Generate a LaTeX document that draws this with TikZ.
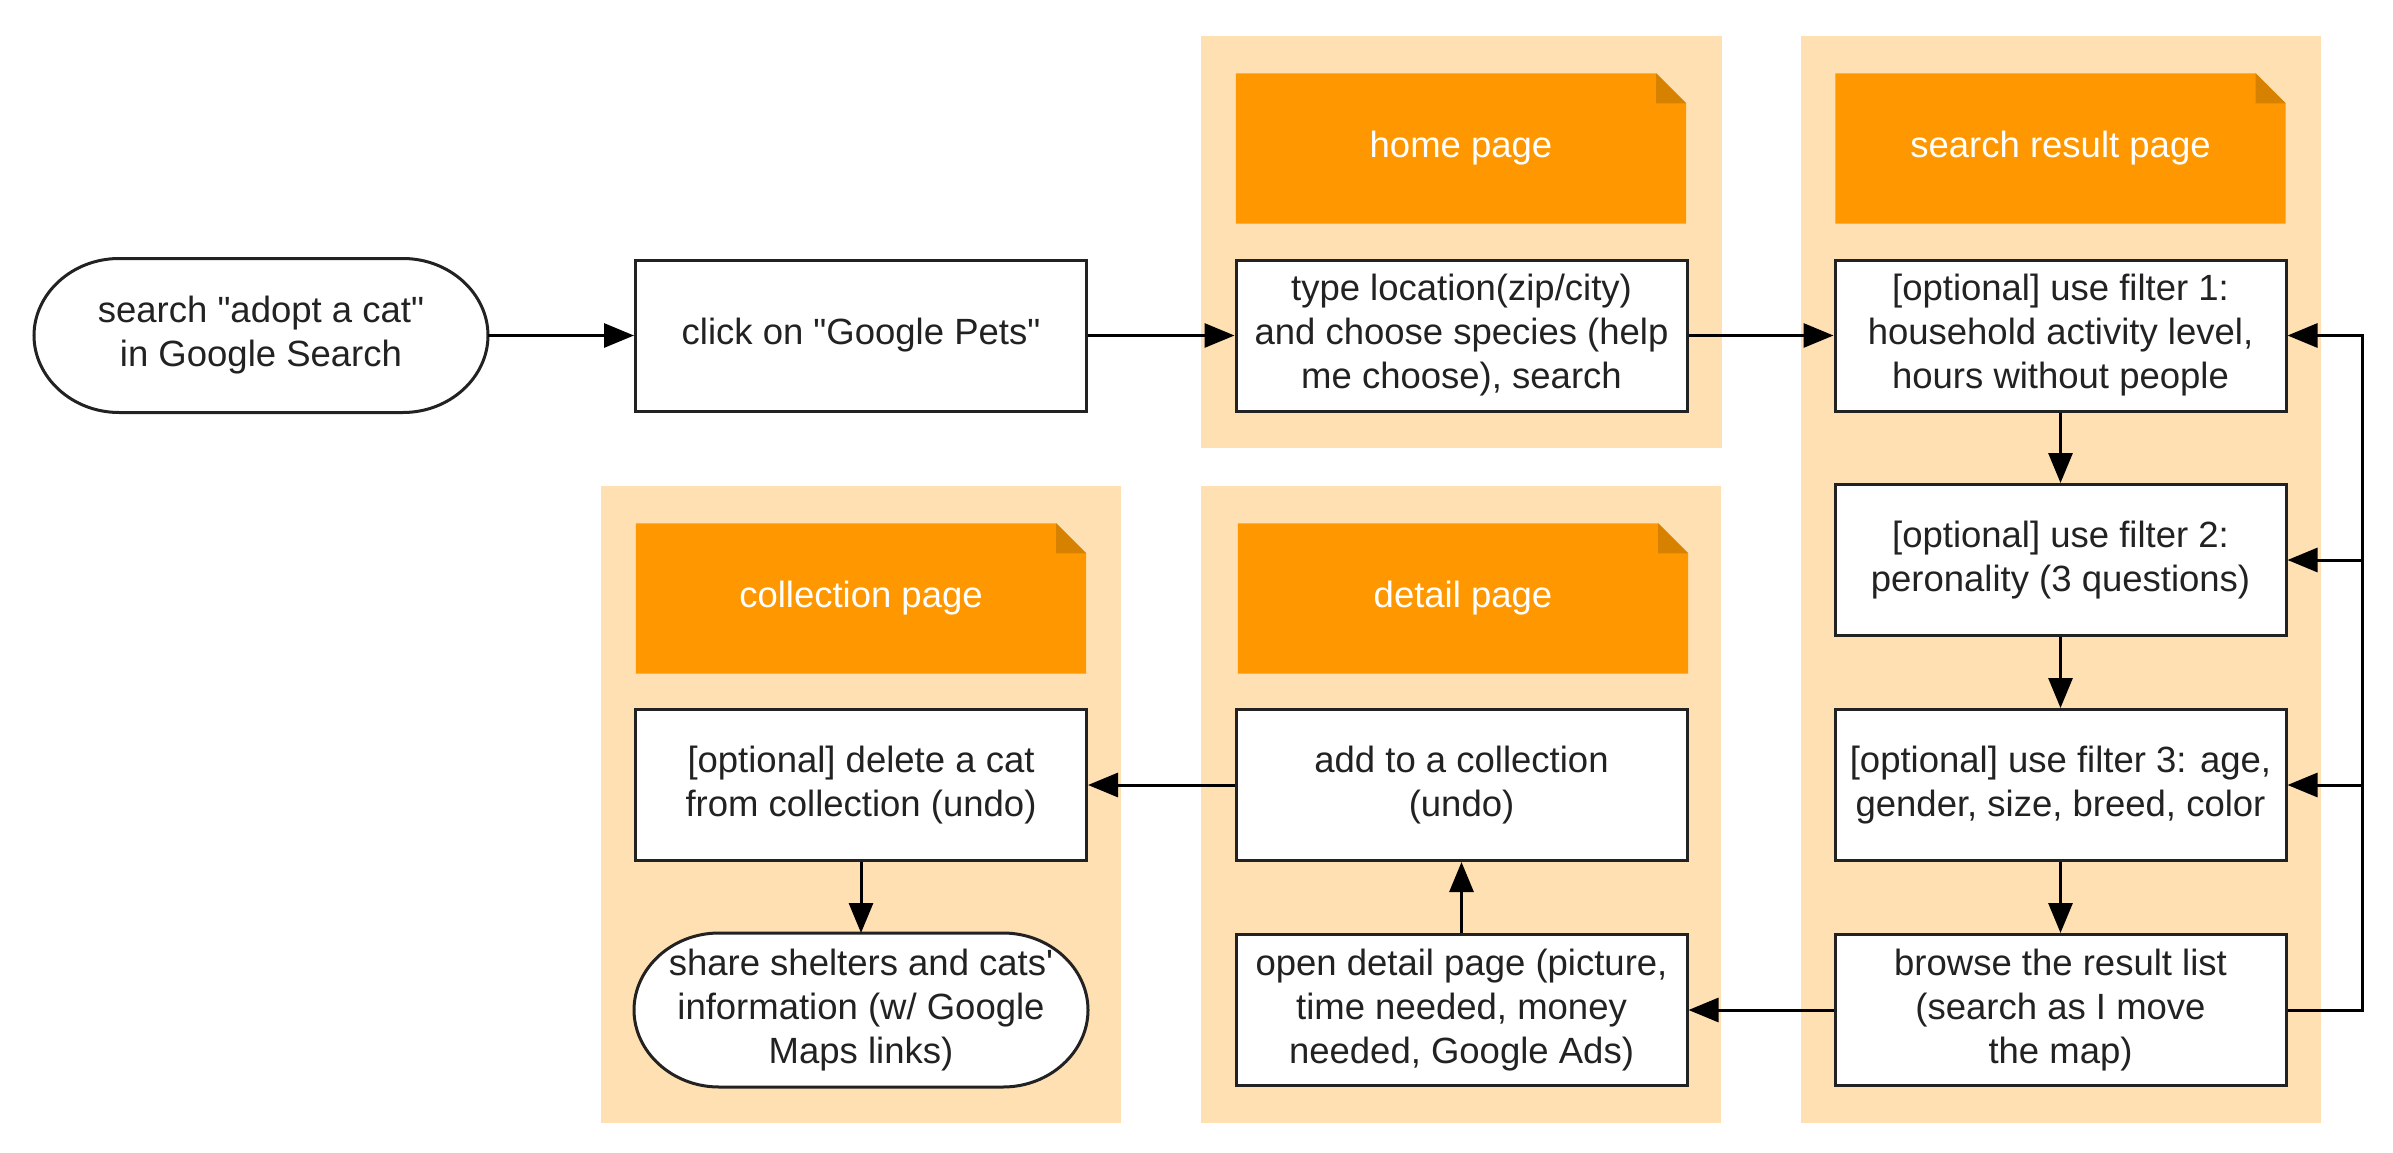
\documentclass[tikz,border=0pt]{standalone}
\usepackage{fontspec}
\setmainfont{Liberation Sans}[Ligatures=TeXOff]
\usetikzlibrary{arrows.meta}
\definecolor{bgor}{HTML}{FFE0B2}
\definecolor{noteor}{HTML}{FF9800}
\definecolor{foldor}{HTML}{D68100}
\definecolor{ink}{HTML}{222222}
\pgfdeclarelayer{back}\pgfdeclarelayer{mid}\pgfsetlayers{back,mid,main}
\newcommand\notefold[1]{%
 \begin{pgfonlayer}{mid}
 \fill[noteor] (#1.north west) -- ([xshift=-30pt]#1.north east) -- ([yshift=-30pt]#1.north east) -- (#1.south east) -- (#1.south west) -- cycle;
 \fill[foldor] ([xshift=-30pt]#1.north east) -- ([xshift=-30pt,yshift=-30pt]#1.north east) -- ([yshift=-30pt]#1.north east) -- cycle;
 \end{pgfonlayer}}
\newcommand\termoutline[1]{%
 \begin{pgfonlayer}{mid}
 \draw[line width=3pt, draw=ink, fill=white] ([xshift=85pt]#1.north west) -- ([xshift=-85pt]#1.north east)
   .. controls ([xshift=-38pt]#1.north east) and ([yshift=41.7pt]#1.east) .. (#1.east)
   .. controls ([yshift=-41.7pt]#1.east) and ([xshift=-38pt]#1.south east) .. ([xshift=-85pt]#1.south east)
   -- ([xshift=85pt]#1.south west)
   .. controls ([xshift=38pt]#1.south west) and ([yshift=-41.7pt]#1.west) .. (#1.west)
   .. controls ([yshift=41.7pt]#1.west) and ([xshift=38pt]#1.north west) .. ([xshift=85pt]#1.north west) -- cycle;
 \end{pgfonlayer}}
\begin{document}
\begin{tikzpicture}[x=1pt,y=-1pt,
  box/.style={draw=ink, line width=3pt, fill=white, minimum width=451pt, minimum height=151pt, inner sep=0pt, align=center, font=\fontsize{36.5}{44}\selectfont, text=ink},
  term/.style={box, draw=none, fill=none},
  notetext/.style={minimum width=450pt, minimum height=150pt, inner sep=0pt, text=white, font=\fontsize{36.5}{44}\selectfont},
  conn/.style={line width=3pt, draw=black, -{Triangle[length=30pt,width=24pt]}}]
\useasboundingbox (0,0) rectangle (2393,1153);
\begin{pgfonlayer}{back}
\fill[bgor] (1201,36) rectangle (1722,448);
\fill[bgor] (1801,36) rectangle (2321,1123);
\fill[bgor] (601,486) rectangle (1121,1123);
\fill[bgor] (1201,486) rectangle (1721,1123);
\end{pgfonlayer}
% notes
\node[notetext] (hn) at (1461,148.5) {home page};
\node[notetext] (sn) at (2060.5,148.5) {search result page};
\node[notetext] (cn) at (861,598.5) {collection page};
\node[notetext] (dn) at (1463,598.5) {detail page};
\notefold{hn}\notefold{sn}\notefold{cn}\notefold{dn}
% boxes
\node[term] (start) at (261,335.5) {search "adopt a cat"\\in Google Search};
\node[box] (click) at (861,335.5) {click on "Google Pets"};
\node[box] (type) at (1461.5,335.5) {type location(zip/city)\\and choose species (help\\me choose), search};
\node[box] (f1) at (2060.5,335.5) {[optional] use filter 1:\\household activity level,\\hours without people};
\node[box] (f2) at (2060.5,560) {[optional] use filter 2:\\peronality (3 questions)};
\node[box] (f3) at (2060.5,785) {[optional] use filter 3: age,\\gender, size, breed, color};
\node[box] (browse) at (2060.5,1010) {browse the result list\\(search as I move\\the map)};
\node[box] (open) at (1461.5,1010) {open detail page (picture,\\time needed, money\\needed, Google Ads)};
\node[box] (add) at (1461.5,785) {add to a collection\\(undo)};
\node[box] (del) at (861,785) {[optional] delete a cat\\from collection (undo)};
\node[term] (share) at (861,1010) {share shelters and cats'\\information (w/ Google\\Maps links)};
\termoutline{start}\termoutline{share}
% connectors
\draw[conn] (start) -- (click);
\draw[conn] (click) -- (type);
\draw[conn] (type) -- (f1);
\draw[conn] (f1) -- (f2);
\draw[conn] (f2) -- (f3);
\draw[conn] (f3) -- (browse);
\draw[conn] (browse) -- (open);
\draw[conn] (open) -- (add);
\draw[conn] (add) -- (del);
\draw[conn] (del) -- (share);
\coordinate (lp) at (2362,1010);
\draw[conn] (browse.east) -- (lp) |- (f1.east);
\draw[conn] (browse.east) -- (lp) |- (f2.east);
\draw[conn] (browse.east) -- (lp) |- (f3.east);
\end{tikzpicture}
\end{document}
